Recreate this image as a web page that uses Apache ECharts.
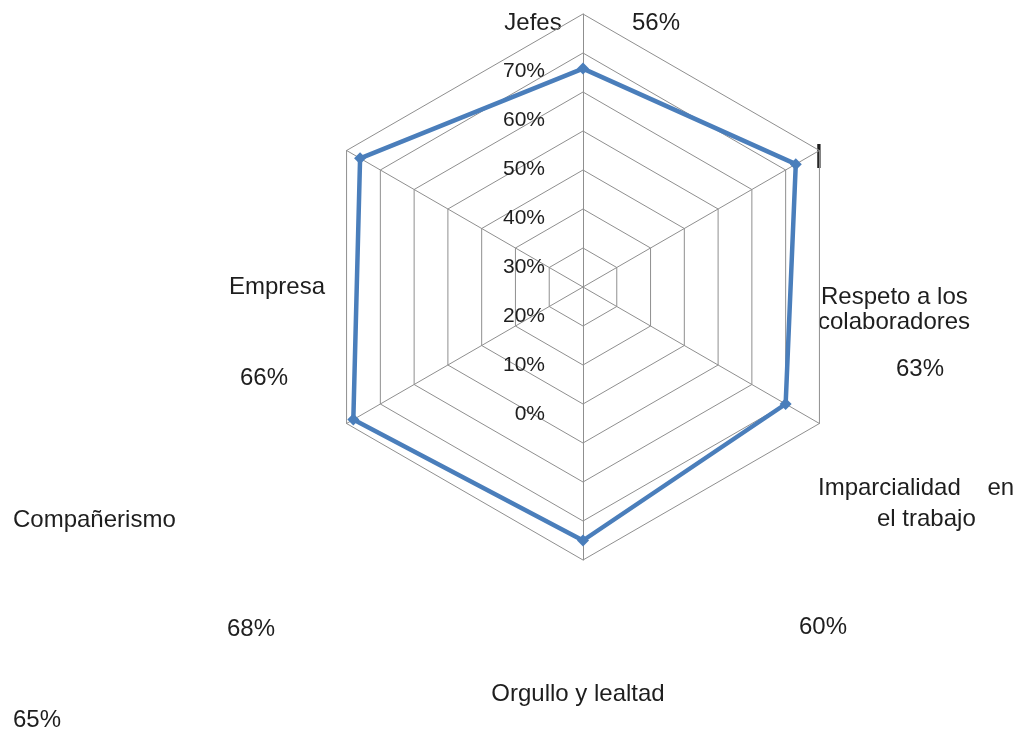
<!DOCTYPE html>
<html>
<head>
<meta charset="utf-8">
<script src="https://cdn.jsdelivr.net/npm/echarts@6/dist/echarts.min.js"></script>
<style>
html,body{margin:0;padding:0;background:#fff;}
#chart{width:1022px;height:733px;}
</style>
</head>
<body>
<div id="chart"></div>
<script>
// Categories in clockwise order starting at the top (as in the reference)
var categories = ['Jefes', 'Respeto a los\ncolaboradores', 'Imparcialidad    en\nel trabajo', 'Orgullo y lealtad', 'Compañerismo', 'Empresa'];
var values = [56, 63, 60, 65, 68, 66];
var tickLabels = ['0%', '10%', '20%', '30%', '40%', '50%', '60%', '70%'];
var axisMax = 70;
var strayMark = '|';

// Label layout (pixel positions of each line of the category labels and of the value labels)
var nameLayout = [
  [{x: 533, y: 23, align: 'center'}],
  [{x: 821, y: 297, align: 'left'}, {x: 818, y: 322, align: 'left'}],
  [{x: 818, y: 488, align: 'left'}, {x: 877, y: 519, align: 'left'}],
  [{x: 578, y: 694, align: 'center'}],
  [{x: 13, y: 520, align: 'left'}],
  [{x: 277, y: 287, align: 'center'}]
];
var valueLayout = [
  {x: 656, y: 23}, {x: 920, y: 369}, {x: 823, y: 627},
  {x: 37, y: 720}, {x: 251, y: 629}, {x: 264, y: 378}
];

var FONT = '"Liberation Sans", Arial, sans-serif';
var TXT = '#1e1e1e';

// ECharts lays radar indicators counter-clockwise: reorder to keep the reference's clockwise layout
function ccw(arr) { return [arr[0]].concat(arr.slice(1).reverse()); }

var graphics = [];
function addText(t, x, y, align, size, weight) {
  graphics.push({
    type: 'text', x: x, y: y, silent: true,
    style: {text: t, fill: TXT, fontSize: size || 24, fontFamily: FONT, fontWeight: weight || 'normal',
      align: align, textAlign: align, verticalAlign: 'middle', textVerticalAlign: 'middle'}
  });
}
categories.forEach(function (c, i) {
  var lines = c.split('\n');
  lines.forEach(function (ln, j) {
    var L = nameLayout[i][j];
    addText(ln, L.x, L.y, L.align);
  });
  addText(values[i] + '%', valueLayout[i].x, valueLayout[i].y, 'center');
});
addText(strayMark, 819, 156, 'center', 26, 'bold');

var chart = echarts.init(document.getElementById('chart'), null, {renderer: 'canvas'});
chart.setOption({
  backgroundColor: '#ffffff',
  animation: false,
  grid: {left: 550, top: 71, width: 10, height: 343},
  xAxis: {type: 'value', show: false},
  yAxis: {
    type: 'category', data: tickLabels, boundaryGap: false, position: 'left',
    axisLine: {show: false}, axisTick: {show: false}, splitLine: {show: false},
    axisLabel: {margin: 5, color: TXT, fontSize: 21, fontFamily: FONT, interval: 0}
  },
  radar: {
    center: [583, 287],
    radius: 273,
    startAngle: 90,
    shape: 'polygon',
    splitNumber: 7,
    indicator: ccw(categories).map(function (c) { return {name: c, min: 0, max: axisMax}; }),
    axisName: {show: false},
    axisLine: {lineStyle: {color: '#8f8f8f', width: 1}},
    splitLine: {lineStyle: {color: '#8f8f8f', width: 1}},
    splitArea: {show: false}
  },
  series: [{
    type: 'radar',
    symbol: 'diamond',
    symbolSize: 12,
    lineStyle: {color: '#4a7ebb', width: 4.5},
    itemStyle: {color: '#4a7ebb'},
    data: [{value: ccw(values)}]
  }],
  graphic: graphics
});
</script>
</body>
</html>
